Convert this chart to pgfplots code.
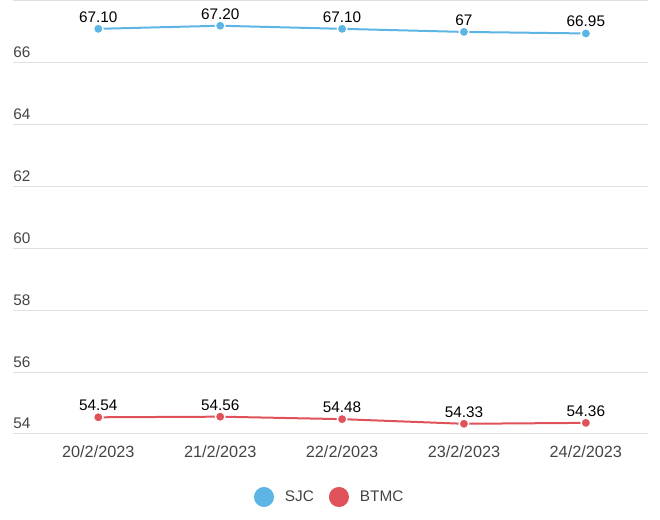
\documentclass[border=0pt]{standalone}
\usepackage{fontspec}
\setmainfont{Liberation Sans}
\usepackage{pgfplots}
\pgfplotsset{compat=1.18}
\definecolor{sjc}{HTML}{5DB5E5}
\definecolor{btmc}{HTML}{E0525A}
\definecolor{gridc}{HTML}{E0E0E0}
\definecolor{tickc}{HTML}{444444}
\begin{document}
\fontsize{11.5}{14}\selectfont
\begin{tikzpicture}[x=0.75pt,y=0.75pt]
\path[use as bounding box] (0,0) rectangle (660,520);
\begin{axis}[
  at={(13*0.75pt,86*0.75pt)}, anchor=south west,
  scale only axis,
  width=635*0.75pt, height=433*0.75pt,
  xmin=-0.7, xmax=4.51,
  ymin=54, ymax=68,
  ytick={54,56,...,68},
  yticklabels={54,56,58,60,62,64,66,{}},
  xtick={0,1,2,3,4},
  xticklabels={20/2/2023,21/2/2023,22/2/2023,23/2/2023,24/2/2023},
  ymajorgrids,
  grid style={gridc, line width=0.75pt},
  axis line style={draw=none},
  major tick length=0pt,
  tick label style={font=\fontsize{11.5}{14}\selectfont, text=tickc},
  yticklabel style={anchor=south west, inner sep=0pt, yshift=3.5pt},
  xticklabel style={anchor=north, inner sep=0pt, yshift=-8.5pt, font=\fontsize{12.2}{14}\selectfont},
  /pgf/number format/assume math mode=true,
  clip=false,
  nodes near coords,
  point meta=explicit symbolic,
  every node near coord/.append style={font=\fontsize{11.5}{14}\selectfont, text=black, anchor=south, yshift=0.5pt},
  legend columns=2,
  legend style={at={(0.499,-0.1455)}, anchor=center, draw=none, fill=none,
    font=\fontsize{11.5}{14}\selectfont, text=tickc,
    /tikz/every even column/.append style={column sep=9pt}},
  legend image code/.code={\fill (0,0) circle (6.75pt); \path (-7pt,0) (13pt,0);},
]
\addplot[sjc, line width=1.5pt, mark=*, mark size=3.6pt,
  mark options={draw=white, fill=sjc, line width=1pt}] table[meta=lab] {
x y lab
0 67.10 67.10
1 67.20 67.20
2 67.10 67.10
3 67.00 67
4 66.95 66.95
};
\addlegendentry{SJC}
\addplot[btmc, line width=1.5pt, mark=*, mark size=3.6pt,
  mark options={draw=white, fill=btmc, line width=1pt}] table[meta=lab] {
x y lab
0 54.54 54.54
1 54.56 54.56
2 54.48 54.48
3 54.33 54.33
4 54.36 54.36
};
\addlegendentry{BTMC}
\end{axis}
\end{tikzpicture}
\end{document}
